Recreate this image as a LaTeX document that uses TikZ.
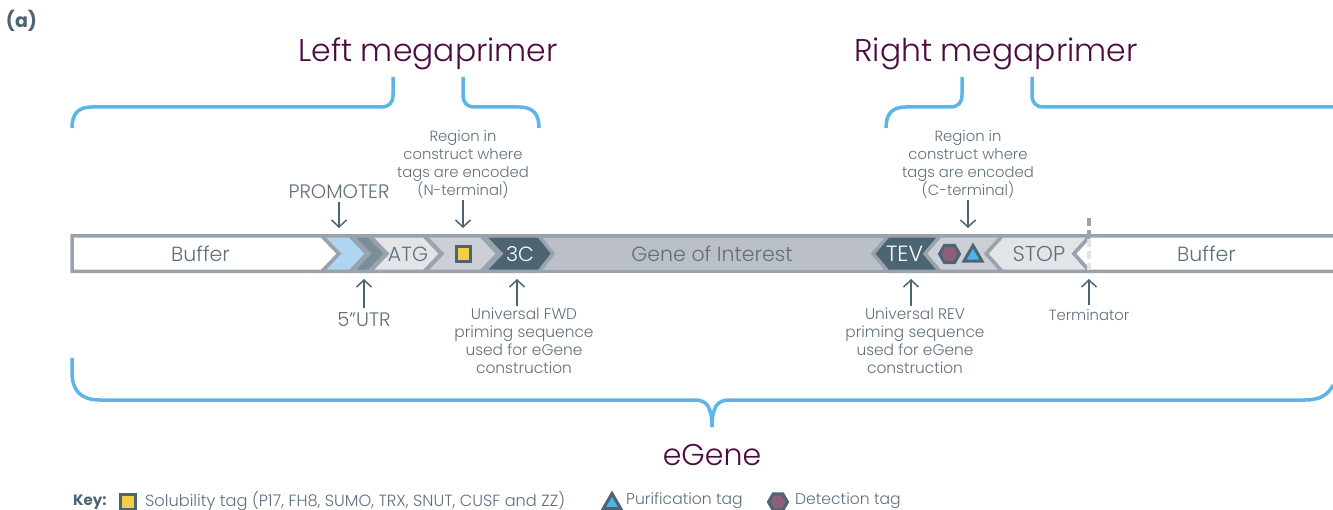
\documentclass[tikz,border=0pt]{standalone}
\usepackage{fontspec}
\setmainfont{Poppins}[UprightFont=* Light,BoldFont=* Bold]
\usepackage{tikz}
\usetikzlibrary{arrows.meta,shapes.geometric}
\definecolor{slate}{HTML}{4D6473}
\definecolor{labelgrey}{HTML}{5F6F7D}
\definecolor{rim}{HTML}{98A3AE}
\definecolor{skyline}{HTML}{5BB5E8}
\definecolor{plum}{HTML}{4D0A40}
\definecolor{tagyellow}{HTML}{F5CE46}
\definecolor{tagblue}{HTML}{4FB3E8}
\definecolor{tagmauve}{HTML}{8E5F7C}
\definecolor{genefill}{HTML}{BBBFC8}
\definecolor{utrfill}{HTML}{AFD5F1}
\definecolor{midfill}{HTML}{7B8C9A}
\definecolor{palefill}{HTML}{E2E4E8}
\definecolor{tagfill}{HTML}{CCD0D6}
\tikzset{
  small label/.style={text=labelgrey,font=\fontsize{14.8}{18}\selectfont,align=center,inner sep=0pt},
  wide label/.style={text=labelgrey,font=\fontsize{19.5}{22}\selectfont,inner sep=0pt},
  bar label/.style={text=labelgrey,font=\fontsize{20.5}{22}\selectfont,inner sep=0pt},
  big label/.style={text=plum,font=\fontsize{31.4}{34}\selectfont,inner sep=0pt},
  key label/.style={text=labelgrey,font=\fontsize{15.6}{18}\selectfont,anchor=west,inner sep=0pt},
  pointer/.style={slate,line width=1.5pt,-{Straight Barb[length=7pt,width=15pt,line width=1.5pt]}},
  brace/.style={skyline,line width=3.5pt},
  seg/.style={draw=rim,line width=3.5pt,line join=miter},
  solubility/.style={draw=slate,line width=3pt,fill=tagyellow,minimum size=14.5pt,inner sep=0pt},
  detection/.style={regular polygon,regular polygon sides=6,draw=slate,line width=3pt,fill=tagmauve,minimum size=20pt,inner sep=0pt},
  purification/.style={regular polygon,regular polygon sides=3,draw=slate,line width=3pt,fill=tagblue,minimum size=21pt,inner sep=0pt},
}
\begin{document}
\begin{tikzpicture}[x=1pt,y=-1pt]
\useasboundingbox (0,0) rectangle (1333,510);

% bar
\draw[seg,fill=genefill] (540,236) rectangle (885,271.5);
\draw[seg,fill=white] (72,236) -- (322,236) -- (339,253.7) -- (322,271.5) -- (72,271.5) -- cycle;
\foreach \xa/\xb/\col in {322/350/utrfill,352/369/midfill,370/424/palefill,425/481/tagfill}
  \draw[seg,fill=\col] (\xa,236) -- (\xb,236) -- (\xb+17,253.7) -- (\xb,271.5) -- (\xa,271.5) -- (\xa+17,253.7) -- cycle;
\draw[seg,fill=slate] (484,236) -- (539,236) -- (553,253.7) -- (539,271.5) -- (484,271.5) -- (501,253.7) -- cycle;
\foreach \xa/\xb/\col in {1002/1090/palefill,940/1002/tagfill}
  \draw[seg,fill=\col] (\xa,236) -- (\xb,236) -- (\xb-16,253.7) -- (\xb,271.5) -- (\xa,271.5) -- (\xa-16,253.7) -- cycle;
\draw[seg,fill=slate] (888,236) -- (940,236) -- (925,253.7) -- (940,271.5) -- (888,271.5) -- (873,253.7) -- cycle;
\fill[white] (1333,236) -- (1090,236) -- (1074,253.7) -- (1090,271.5) -- (1333,271.5) -- cycle;
\draw[seg] (1333,236) -- (1090,236) -- (1074,253.7) -- (1090,271.5) -- (1333,271.5);
\draw[rim,line width=3.5pt,dash pattern=on 8pt off 4pt] (1089,218) -- (1089,236);
\draw[palefill,line width=3.5pt,dash pattern=on 8pt off 4pt] (1089,239) -- (1089,270);

\node[bar label] (bufferleft) at (200.5,254) {Buffer};
\node[bar label] (atg) at (408,254) {ATG};
\node[solubility] (soltag) at (463.5,254) {};
\node[bar label,text=white] (threec) at (520,254) {3C};
\node[bar label] (goi) at (712,254) {Gene of Interest};
\node[bar label,text=white,font=\fontsize{22}{24}\selectfont] (tev) at (904.5,254) {TEV};
\node[detection] (dettag) at (949.5,254) {};
\node[purification] (purtag) at (973,256) {};
\node[bar label,font=\fontsize{21.5}{24}\selectfont] (stop) at (1039,254) {STOP};
\node[bar label] (bufferright) at (1206.5,254) {Buffer};

% labels
\node[text=slate,font=\fontsize{19}{22}\bfseries\selectfont,inner sep=0pt] (panel) at (21.5,21) {(a)};
\node[big label] (leftmega) at (428,54) {Left megaprimer};
\node[big label] (rightmega) at (996,54) {Right megaprimer};
\node[big label,font=\fontsize{30}{32}\selectfont] (egene) at (712,455) {eGene};

\node[wide label] (promoter) at (339,192) {PROMOTER};
\node[small label] (nregion) at (463,164) {Region in\\construct where\\tags are encoded\\(N-terminal)};
\node[small label] (cregion) at (968,164) {Region in\\construct where\\tags are encoded\\(C-terminal)};
\node[wide label] (utr) at (364,320) {5”UTR};
\node[small label,font=\fontsize{15.4}{18}\selectfont] (fwd) at (524,341) {Universal FWD\\priming sequence\\used for eGene\\construction};
\node[small label,font=\fontsize{15.4}{18}\selectfont] (rev) at (915,341) {Universal REV\\priming sequence\\used for eGene\\construction};
\node[small label] (terminator) at (1089,315) {Terminator};

\coordinate (promoterend) at (339,228);
\coordinate (nregionend) at (463,228);
\coordinate (cregionend) at (968,228);
\coordinate (utrend) at (364,279);
\coordinate (fwdend) at (517,279);
\coordinate (revend) at (911,279);
\coordinate (terminatorend) at (1089,279);

\draw[pointer,shorten <=3pt] (promoter.south -| promoterend) -- (promoterend);
\draw[pointer,shorten <=2pt] (nregion.south -| nregionend) -- (nregionend);
\draw[pointer,shorten <=2pt] (cregion.south -| cregionend) -- (cregionend);
\draw[pointer,shorten <=5pt] (utr.north -| utrend) -- (utrend);
\draw[pointer,shorten <=2pt] (fwd.north -| fwdend) -- (fwdend);
\draw[pointer,shorten <=2pt] (rev.north -| revend) -- (revend);
\draw[pointer,shorten <=4pt] (terminator.north -| terminatorend) -- (terminatorend);

% braces
\draw[brace] (72,128) .. controls (72,114) and (78,107) .. (92,107) -- (381,107)
  .. controls (389,107) and (393,103) .. (393,95) -- (393,77);
\draw[brace] (463,77) -- (463,95) .. controls (463,103) and (467,107) .. (475,107) -- (519,107)
  .. controls (533,107) and (539,114) .. (539,128);
\draw[brace] (886,128) .. controls (886,114) and (892,107) .. (906,107) -- (950,107)
  .. controls (958,107) and (962,103) .. (962,95) -- (962,77);
\draw[brace] (1032,77) -- (1032,95) .. controls (1032,103) and (1036,107) .. (1044,107) -- (1333,107);
\draw[brace] (72,358) -- (72,372) .. controls (72,391) and (81,400) .. (100,400) -- (695,400)
  .. controls (706,400) and (712,406) .. (712,427)
  .. controls (712,406) and (718,400) .. (729,400) -- (1305,400)
  .. controls (1320,400) and (1328,395) .. (1333,385);

% key
\node[key label,text=slate,font=\fontsize{15}{18}\bfseries\selectfont] (keyword) at (73,502) {Key:};
\node[solubility,minimum size=15pt] (keysol) at (128,502) {};
\node[key label,font=\fontsize{16.2}{18}\selectfont] (keysoltext) at (145,501) {Solubility tag (P17, FH8, SUMO, TRX, SNUT, CUSF and ZZ)};
\node[purification,minimum size=20pt] (keypur) at (612,503.5) {};
\node[key label] (keypurtext) at (626,501) {Purification tag};
\node[detection,minimum size=19pt] (keydet) at (778,502) {};
\node[key label] (keydettext) at (795,501) {Detection tag};
\end{tikzpicture}
\end{document}
